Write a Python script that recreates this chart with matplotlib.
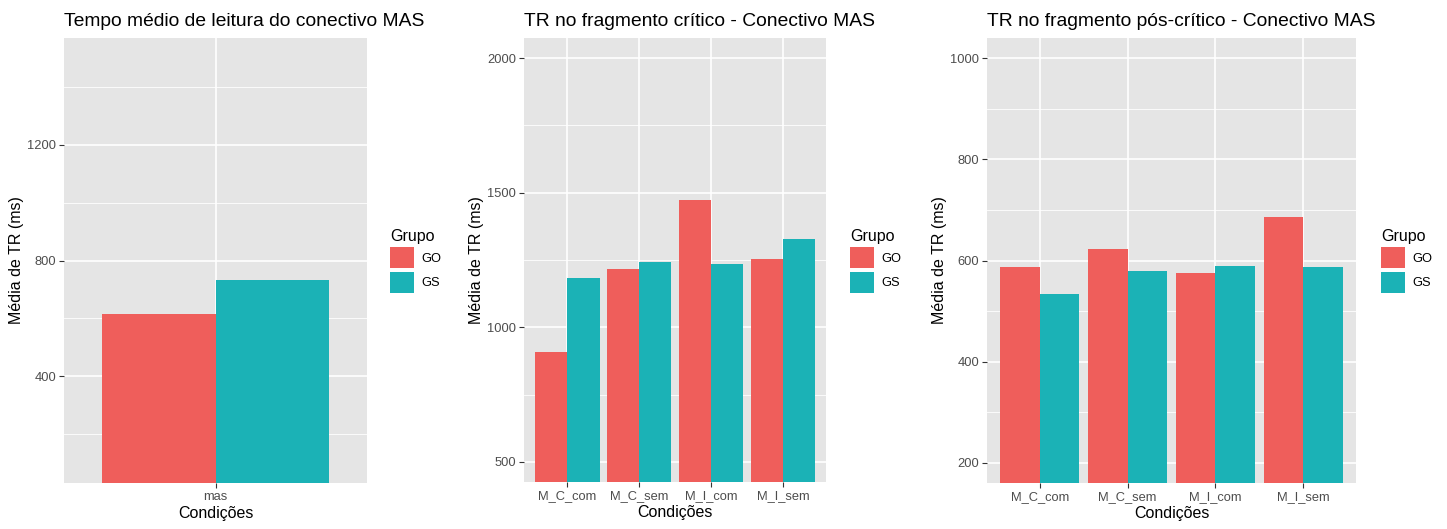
import numpy as np
import matplotlib
matplotlib.use('Agg')
import matplotlib.pyplot as plt

plt.rcParams['font.family'] = ['Liberation Sans', 'DejaVu Sans']

# data
cond_mas = ['mas']
go_mas = [614]
gs_mas = [732]

cond_frag = ['M_C_com', 'M_C_sem', 'M_I_com', 'M_I_sem']
go_crit = [908, 1216, 1474, 1255]
gs_crit = [1184, 1243, 1234, 1327]

go_pos = [587, 622, 576, 686]
gs_pos = [533, 580, 590, 588]

titles = ['Tempo médio de leitura do conectivo MAS',
          'TR no fragmento crítico - Conectivo MAS',
          'TR no fragmento pós-crítico - Conectivo MAS']
groups = ['GO', 'GS']

c_go = '#EF5E5B'
c_gs = '#1BB2B6'
bg = '#E5E5E5'

W, H = 1447, 529
fig = plt.figure(figsize=(W / 100, H / 100), dpi=100)


def make_ax(x0, x1, y0, y1):
    return fig.add_axes([x0 / W, (H - y1) / H, (x1 - x0) / W, (y1 - y0) / H])


def panel(ax, cats, go, gs, ylim, major, minor, title, leg_x):
    ax.set_facecolor(bg)
    for s in ax.spines.values():
        s.set_visible(False)
    x = np.arange(len(cats))
    for m in minor:
        ax.axhline(m, color='white', lw=0.6, zorder=0)
    for m in major:
        ax.axhline(m, color='white', lw=1.2, zorder=0)
    for xi in x:
        ax.axvline(xi, color='white', lw=1.2, zorder=0)
    b1 = ax.bar(x - 0.225, go, width=0.45, color=c_go, zorder=2)
    b2 = ax.bar(x + 0.225, gs, width=0.45, color=c_gs, zorder=2)
    ax.set_xlim(-0.6, len(cats) - 0.4)
    pad = (ylim[1] - ylim[0]) * 0.05
    ax.set_ylim(ylim[0] - pad, ylim[1] + pad)
    ax.set_xticks(x)
    ax.set_xticklabels(cats)
    ax.set_yticks(major)
    ax.tick_params(axis='both', labelsize=9.3, labelcolor='#4D4D4D',
                   color='#333333', length=3.8, width=0.8, pad=2)
    ax.set_xlabel('Condições', fontsize=11.5, labelpad=2)
    ax.set_ylabel('Média de TR (ms)', fontsize=11.5, labelpad=2)
    ax.set_title(title, loc='left', fontsize=13.9, pad=9)
    leg = ax.legend([b1, b2], groups, title='Grupo', frameon=False,
                    loc='upper left',
                    bbox_to_anchor=(leg_x / W, (H - 229) / H),
                    bbox_transform=fig.transFigure,
                    fontsize=9.3, title_fontsize=11.5,
                    handlelength=1.85, handleheight=2.15,
                    labelspacing=0.25, handletextpad=0.6, borderpad=0,
                    borderaxespad=0)
    leg._legend_box.align = 'left'


ax1 = make_ax(64, 367, 38, 483)
panel(ax1, cond_mas, go_mas, gs_mas, (100, 1500), [400, 800, 1200],
      [200, 600, 1000, 1400], titles[0], 390)

ax2 = make_ax(524, 826, 38, 482)
panel(ax2, cond_frag, go_crit, gs_crit, (500, 2000), [500, 1000, 1500, 2000],
      [750, 1250, 1750], titles[1], 850)

ax3 = make_ax(987, 1356, 38, 483)
panel(ax3, cond_frag, go_pos, gs_pos, (200, 1000), [200, 400, 600, 800, 1000],
      [300, 500, 700, 900], titles[2], 1381)

fig.savefig('out.png', dpi=100)
